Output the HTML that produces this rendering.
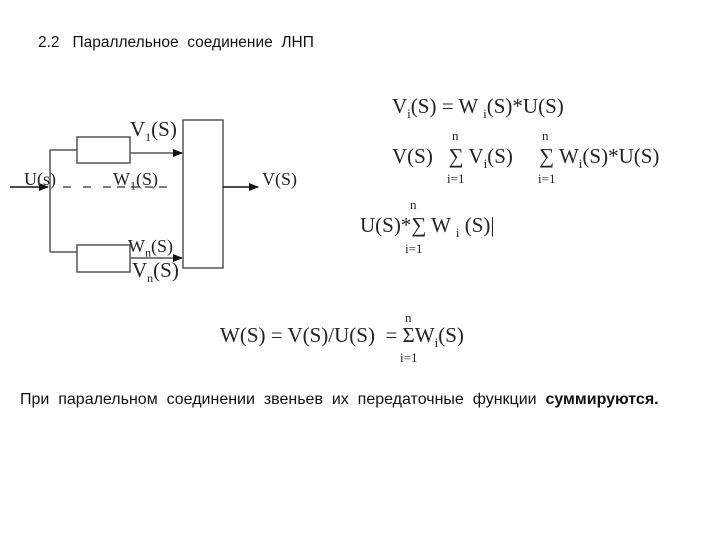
<!DOCTYPE html>
<html><head><meta charset="utf-8"><style>
body{margin:0;width:720px;height:540px;background:#fff;position:relative;overflow:hidden}
.t{position:absolute;font-family:"Liberation Sans",sans-serif;font-size:16px;color:#111;white-space:pre}
.m{position:absolute;font-family:"Liberation Serif",serif;font-size:21px;color:#222;white-space:pre}
.s{position:absolute;font-family:"Liberation Serif",serif;font-size:13px;color:#222}
</style></head><body>
<div class="t" style="left:38px;top:34px;font-size:15.5px">2.2   Параллельное  соединение  ЛНП</div>
<svg width="720" height="540" style="position:absolute;left:0;top:0">
<defs><marker id="a" markerWidth="10" markerHeight="8" refX="9" refY="4" orient="auto" markerUnits="userSpaceOnUse"><path d="M0,0L10,4L0,8z" fill="#111"/></marker></defs>
<g stroke="#555" stroke-width="1.5" fill="none">
<rect x="77" y="137" width="53" height="26"/>
<rect x="77" y="245" width="53" height="27"/>
<rect x="183" y="120" width="40" height="148"/>
<path d="M50,150V252M50,150H77M50,252H77"/>
<path d="M130,153H182" marker-end="url(#a)"/>
<path d="M130,258H182" marker-end="url(#a)"/>
<path d="M223,187H258" stroke="#111" marker-end="url(#a)"/>
<path d="M10,187H48" stroke="#111" marker-end="url(#a)"/>
<path d="M63,187H75M83,187H93M103,187H172" stroke-dasharray="8,6"/>
</g></svg>
<div class="m" style="left:130px;top:117px">V<sub style="font-size:12px">1</sub>(S)</div>
<div class="m" style="left:24px;top:169px;font-size:18px">U(s)</div>
<div class="m" style="left:113px;top:169px;font-size:18px">W<sub style="font-size:12px">1</sub>(S)</div>
<div class="m" style="left:262px;top:169px;font-size:18px">V(S)</div>
<div class="m" style="left:128px;top:236px;font-size:18px">W<sub style="font-size:12px">n</sub>(S)</div>
<div class="m" style="left:132px;top:258px">V<sub style="font-size:12px">n</sub>(S)</div>
<div class="m" style="left:392px;top:94px">V<sub style="font-size:13px">i</sub>(S) = W <sub style="font-size:13px">i</sub>(S)*U(S)</div>
<div class="s" style="left:452px;top:128px">n</div><div class="s" style="left:542px;top:128px">n</div>
<div class="m" style="left:392px;top:144px">V(S)   ∑ V<sub style="font-size:13px">i</sub>(S)     ∑ W<sub style="font-size:13px">i</sub>(S)*U(S)</div>
<div class="s" style="left:447px;top:171px">i=1</div><div class="s" style="left:538px;top:171px">i=1</div>
<div class="s" style="left:410px;top:197px">n</div>
<div class="m" style="left:360px;top:213px">U(S)*∑ W <sub style="font-size:13px">i</sub> (S)|</div>
<div class="s" style="left:405px;top:241px">i=1</div>
<div class="s" style="left:405px;top:310px">n</div>
<div class="m" style="left:220px;top:323px">W(S) = V(S)/U(S)  = ΣW<sub style="font-size:13px">i</sub>(S)</div>
<div class="s" style="left:400px;top:350px">i=1</div>
<div class="t" style="left:20px;top:391px">При  паралельном  соединении  звеньев  их  передаточные  функции  <b>суммируются.</b></div>
</body></html>
